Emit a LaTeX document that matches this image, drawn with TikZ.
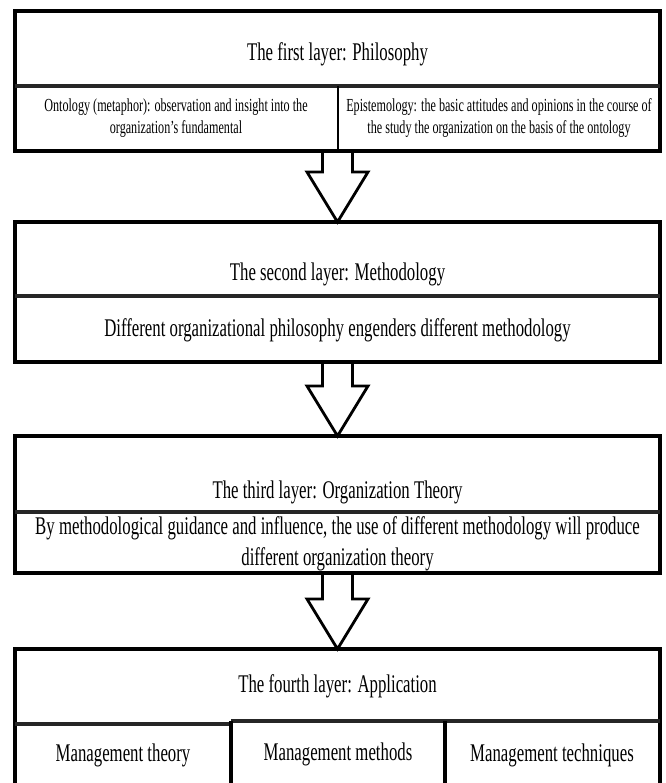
\documentclass[tikz,border=0pt]{standalone}
\usepackage{fontspec}
\setmainfont{Liberation Serif}[FakeStretch=0.66]
\usepackage{tikz}
\usetikzlibrary{calc}

% flecha de bloque entre dos capas
\newcommand{\flecha}[2]{%
  \draw[bloque] ($(#1.south)+(-15,0)$) |- ($(#2.north)+(-30.5,-50)$)
    -- (#2.north) -- ($(#2.north)+(30.5,-50)$) -| ($(#1.south)+(15,0)$);
}

\begin{document}
\begin{tikzpicture}[   % opciones por defecto
      x=0.03cm,          % una unidad = un pixel
      y=-0.03cm,         % eje y hacia abajo
      line join=miter,   % puntas de flecha agudas
      font=\fontsize{21.7}{26.4}\selectfont
    ]
    \tikzstyle{marco}=[draw=black, line width=2.9pt];
    \tikzstyle{capa}=[marco, inner sep=0pt, outer sep=0pt, minimum width=19.35cm];
    \tikzstyle{linea}=[line width=3pt, draw=black!85];
    \tikzstyle{bloque}=[line width=2.4pt, draw=black];
    \tikzstyle{texto}=[align=center, inner sep=0pt];
    \tikzstyle{chico}=[font=\fontsize{15.7}{18.7}\selectfont];
    %
    \useasboundingbox (0,0) rectangle (665,783);
    %
    % primera capa
    \node[capa, minimum height=4.2cm] (L1) at (337.5,81) {};
    \draw[linea] (15,86) -- (660,86);
    \draw[marco, line width=2.5pt] (338,86) -- (338,151);
    \node[texto] (t1) at (337.5,54) {The first layer: Philosophy};
    \node[texto, chico] (ont) at (176,118)
      {Ontology (metaphor): observation and insight into the\\organization's fundamental};
    \node[texto, chico] (epi) at (499,118)
      {Epistemology: the basic attitudes and opinions in the course of\\the study the organization on the basis of the ontology};
    %
    % segunda capa
    \node[capa, minimum height=4.2cm] (L2) at (337.5,292) {};
    \draw[linea] (15,296) -- (660,296);
    \node[texto] (t2) at (337.5,274) {The second layer: Methodology};
    \node[texto] (met) at (337.5,330)
      {Different organizational philosophy engenders different methodology};
    %
    % tercera capa
    \node[capa, minimum height=4.11cm] (L3) at (337.5,504.5) {};
    \draw[linea] (15,512) -- (660,512);
    \node[texto] (t3) at (337.5,492) {The third layer: Organization Theory};
    \node[texto] (teo) at (337.5,544)
      {By methodological guidance and influence, the use of different methodology will produce\\different organization theory};
    %
    % cuarta capa (abierta abajo)
    \node[capa, draw=none, minimum height=4.02cm] (L4) at (337.5,716) {};
    \draw[marco] (L4.south west) |- (L4.north east) -- (L4.south east);
    \draw[linea] (15,724) -- (231,724);
    \draw[linea] (231,721) -- (660,721);
    \draw[marco] (231,721) -- (231,783);
    \draw[marco] (445,721) -- (445,783);
    \node[texto] (t4) at (337.5,686) {The fourth layer: Application};
    \node[texto] (mt) at (123,755) {Management theory};
    \node[texto] (mm) at (338,754) {Management methods};
    \node[texto] (mq) at (552,755) {Management techniques};
    %
    % flechas entre capas
    \flecha{L1}{L2}
    \flecha{L2}{L3}
    \flecha{L3}{L4}
  \end{tikzpicture}
\end{document}
